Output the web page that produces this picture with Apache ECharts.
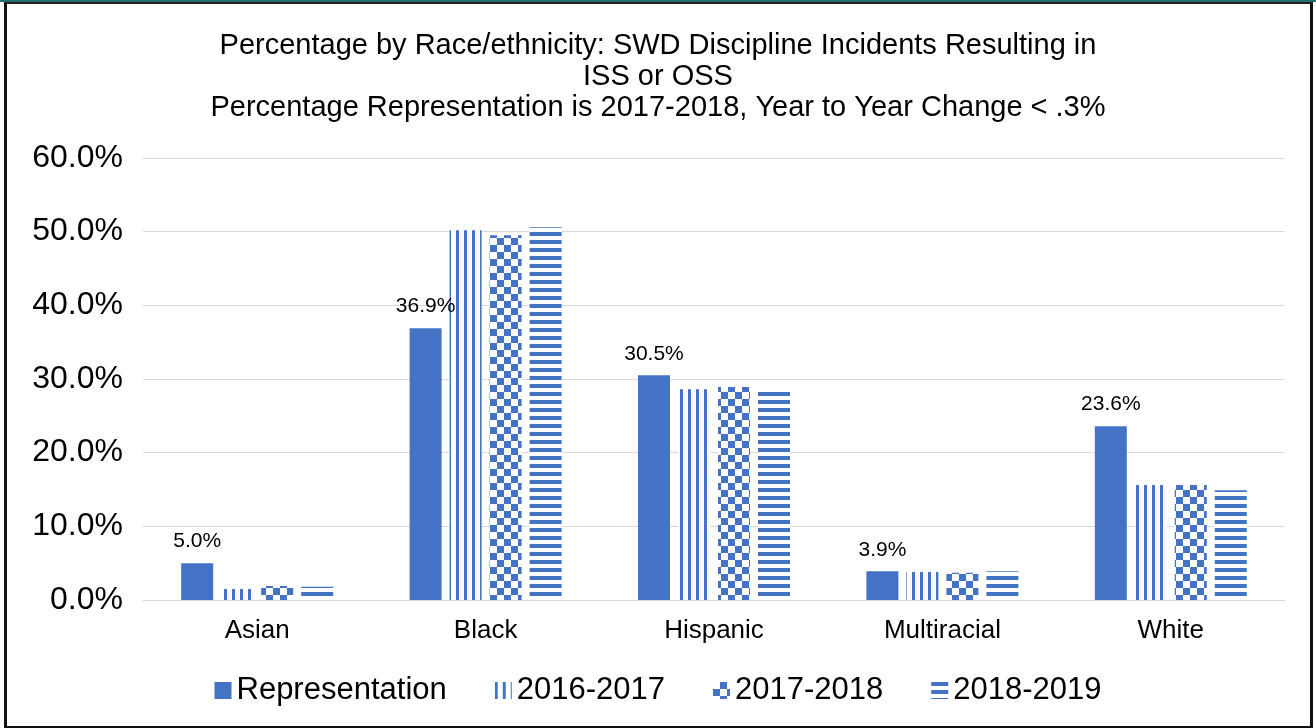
<!DOCTYPE html>
<html>
<head>
<meta charset="utf-8">
<script src="https://cdn.jsdelivr.net/npm/echarts@6/dist/echarts.min.js"></script>
<style>
  html, body { margin: 0; padding: 0; background: #fff; }
  #topline { position: absolute; left: 0; top: 0; width: 1316px; height: 2px; background: #1f6f6a; }
  #frame {
    position: absolute; left: 4px; top: 2px; width: 1303px; height: 722px;
    border: 3px solid #111; border-top: 2px solid #222;
  }
  #chart { position: absolute; left: 0; top: 0; width: 1316px; height: 728px; }
</style>
</head>
<body>
<div id="topline"></div>
<div id="frame"></div>
<div id="chart"></div>
<script>
// categories and series values (percent)
var categories = ["Asian", "Black", "Hispanic", "Multiracial", "White"];
var representation = [5.0, 36.9, 30.5, 3.9, 23.6];
var y2016_2017 = [1.5, 50.2, 28.6, 3.8, 15.6];
var y2017_2018 = [1.9, 49.5, 28.9, 3.7, 15.6];
var y2018_2019 = [1.8, 50.6, 28.5, 3.9, 14.9];
var seriesNames = ["Representation", "2016-2017", "2017-2018", "2018-2019"];

var blue = "#4472C4";
var font = "Liberation Sans, Arial";

var chart = echarts.init(document.getElementById("chart"));

var option = {
  animation: false,
  backgroundColor: "transparent",
  title: {
    text: "Percentage by Race/ethnicity: SWD Discipline Incidents Resulting in\nISS or OSS\nPercentage Representation is 2017-2018, Year to Year Change < .3%",
    left: "center",
    top: 25,
    textStyle: {
      fontFamily: font,
      fontWeight: "normal",
      fontSize: 29,
      lineHeight: 31,
      color: "#000"
    }
  },
  grid: {
    left: 143,
    right: 31,
    top: 158,
    bottom: 128,
    containLabel: false
  },
  legend: {
    top: 670,
    left: "center",
    icon: "rect",
    itemWidth: 17,
    itemHeight: 17,
    itemGap: 48,
    data: seriesNames,
    textStyle: {
      fontFamily: font,
      fontSize: 31,
      color: "#000"
    }
  },
  xAxis: {
    type: "category",
    data: categories,
    axisLine: { lineStyle: { color: "#d9d9d9", width: 1 } },
    axisTick: { show: false },
    axisLabel: {
      fontFamily: font,
      fontSize: 26,
      color: "#000",
      margin: 18
    }
  },
  yAxis: {
    type: "value",
    min: 0,
    max: 60,
    interval: 10,
    axisLine: { show: false },
    axisTick: { show: false },
    splitLine: { lineStyle: { color: "#d9d9d9", width: 1 } },
    axisLabel: {
      fontFamily: font,
      fontSize: 32,
      color: "#000",
      margin: 20,
      formatter: function (v) { return v.toFixed(1) + "%"; }
    }
  },
  series: [
    {
      name: seriesNames[0],
      type: "bar",
      data: representation,
      barWidth: 32,
      barGap: "25%",
      itemStyle: { color: blue },
      label: {
        show: true,
        position: "top",
        distance: 11,
        fontFamily: font,
        fontSize: 21,
        color: "#000",
        formatter: function (p) { return p.value.toFixed(1) + "%"; }
      }
    },
    {
      name: seriesNames[1],
      type: "bar",
      data: y2016_2017,
      barWidth: 32,
      barGap: "25%",
      itemStyle: {
        color: "#fff",
        decal: {
          symbol: "rect",
          symbolSize: 1,
          color: blue,
          dashArrayX: [3, 5],
          dashArrayY: [1, 0]
        }
      }
    },
    {
      name: seriesNames[2],
      type: "bar",
      data: y2017_2018,
      barWidth: 32,
      barGap: "25%",
      itemStyle: {
        color: "#fff",
        decal: {
          symbol: "rect",
          symbolSize: 1,
          color: blue,
          dashArrayX: [[7, 7], [0, 7, 7, 0]],
          dashArrayY: [7, 0]
        }
      }
    },
    {
      name: seriesNames[3],
      type: "bar",
      data: y2018_2019,
      barWidth: 32,
      barGap: "25%",
      itemStyle: {
        color: "#fff",
        decal: {
          symbol: "rect",
          symbolSize: 1,
          color: blue,
          dashArrayX: [1, 0],
          dashArrayY: [4, 4]
        }
      }
    }
  ]
};

chart.setOption(option);
window.addEventListener("resize", function () {
  chart.resize();
});
</script>
</body>
</html>
